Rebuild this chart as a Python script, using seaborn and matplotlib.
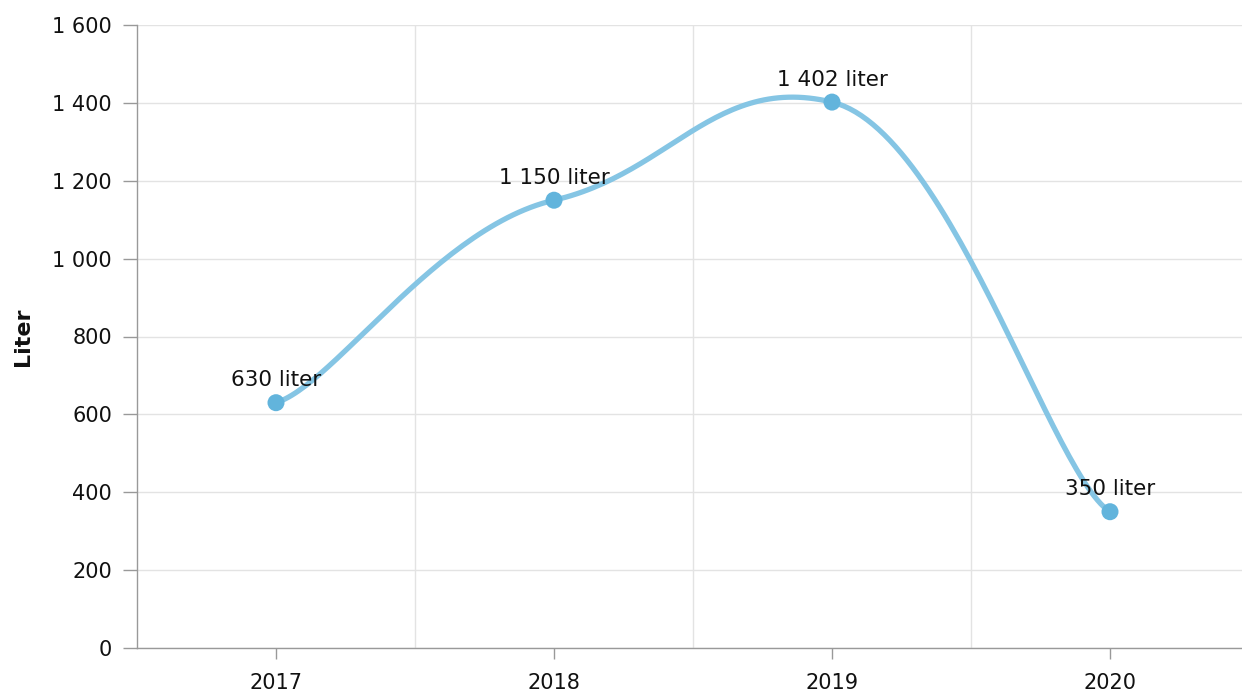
import numpy as np
import matplotlib
matplotlib.use("Agg")
import matplotlib.pyplot as plt
import seaborn as sns

years = ["2017", "2018", "2019", "2020"]
liters = [630, 1150, 1402, 350]
y_ticks = [0, 200, 400, 600, 800, 1000, 1200, 1400, 1600]

sns.set_style("white")
plt.rcParams["font.family"] = ["DejaVu Sans"]

line_color = "#85c5e4"
point_color = "#62b4dc"
grid_color = "#e3e3e3"
axis_color = "#999999"


def smooth_path(xs, ys, kx=0.21, ky=0.09, n=60):
    # cardinal-style bezier through the points, x and y smoothed separately
    m = len(xs)
    t = np.linspace(0, 1, n)
    cx, cy = [], []
    for i in range(m - 1):
        i0 = max(i - 1, 0)
        i3 = min(i + 2, m - 1)
        p1 = np.array([xs[i], ys[i]], float)
        p2 = np.array([xs[i + 1], ys[i + 1]], float)
        p0 = np.array([xs[i0], ys[i0]], float)
        p3 = np.array([xs[i3], ys[i3]], float)
        k = np.array([kx, ky])
        c1 = p1 + (p2 - p0) * k
        c2 = p2 - (p3 - p1) * k
        pts = ((1 - t) ** 3)[:, None] * p1 + (3 * (1 - t) ** 2 * t)[:, None] * c1 \
            + (3 * (1 - t) * t ** 2)[:, None] * c2 + (t ** 3)[:, None] * p2
        cx.extend(pts[:, 0]); cy.extend(pts[:, 1])
    return np.array(cx), np.array(cy)


pos = np.arange(len(years))
cx, cy = smooth_path(pos, liters)

fig = plt.figure(figsize=(12.42, 6.96), dpi=100)
ax = fig.add_axes([137 / 1242, 48 / 696, 1105 / 1242, 623 / 696])

sns.lineplot(x=cx, y=cy, ax=ax, color=line_color, linewidth=3.8, sort=False,
             estimator=None, zorder=3)
sns.scatterplot(x=pos, y=liters, ax=ax, color=point_color, s=150,
                edgecolor="none", zorder=4)

for x, v in zip(pos, liters):
    ax.annotate(f"{v:,} liter".replace(",", " "), (x, v), xytext=(0, 9),
                textcoords="offset points", ha="center", va="bottom",
                fontsize=15.5, color="#111111", zorder=5)

ax.set_xlim(-0.5, -0.5 + 1105 / 278)
ax.set_ylim(0, 1600)
ax.set_yticks(y_ticks)
ax.set_yticklabels([f"{v:,}".replace(",", " ") for v in y_ticks])
ax.set_xticks(pos)
ax.set_xticklabels(years)
ax.set_xticks(pos[:-1] + 0.5, minor=True)

ax.grid(False)
ax.yaxis.grid(True, color=grid_color, linewidth=1)
ax.xaxis.grid(True, which="minor", color=grid_color, linewidth=1)
ax.set_axisbelow(True)

for s in ["top", "right"]:
    ax.spines[s].set_visible(False)
for s in ["left", "bottom"]:
    ax.spines[s].set_color(axis_color)
    ax.spines[s].set_linewidth(1)

ax.tick_params(axis="y", which="major", length=10, width=1, color=axis_color,
               labelsize=15, labelcolor="#111111", pad=8, left=True)
ax.tick_params(axis="x", which="major", length=8, width=1, color=axis_color,
               labelsize=15, labelcolor="#111111", pad=10, bottom=True)
ax.tick_params(axis="x", which="minor", length=0)

ax.set_xlabel("")
ax.set_ylabel("Liter", fontsize=16, fontweight="bold", color="#111111")
ax.yaxis.set_label_coords(-104 / 1105, 0.5)

fig.savefig("out.png", dpi=100)
